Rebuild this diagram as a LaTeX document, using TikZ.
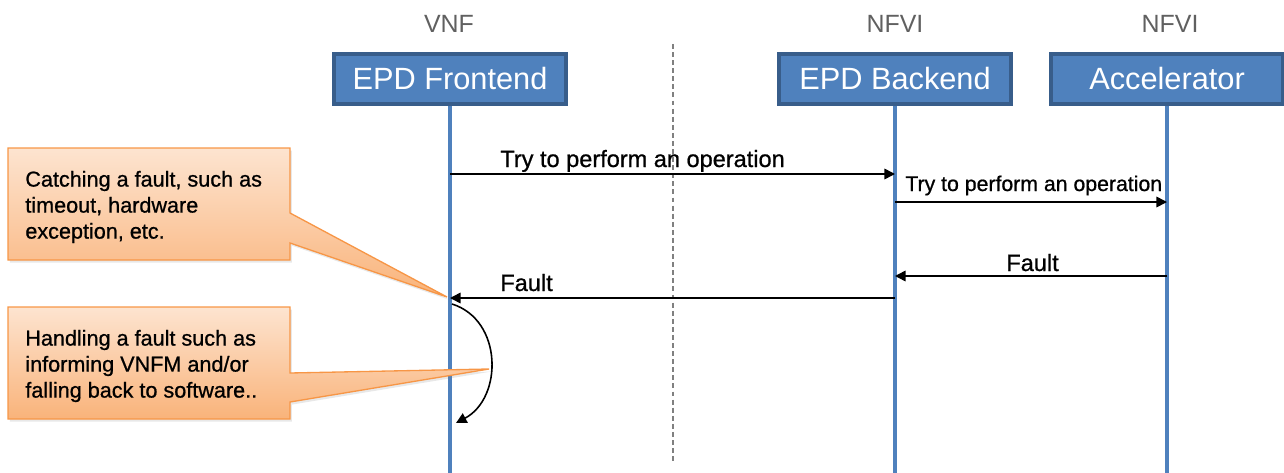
\documentclass[tikz,border=0pt]{standalone}
\usepackage{fontspec}
\setmainfont{Liberation Sans}
\newfontfamily\heavysans[FakeBold=0.8]{Liberation Sans}
\usetikzlibrary{arrows.meta,shadows}
\definecolor{boxblue}{HTML}{4F81BD}
\definecolor{boxedge}{HTML}{385D8A}
\definecolor{headgray}{HTML}{606060}
\definecolor{calltop}{HTML}{FDE4D0}
\definecolor{callbot}{HTML}{F9B37A}
\definecolor{calledge}{HTML}{F79646}
\begin{document}
\begin{tikzpicture}[x=0.02cm,y=-0.02cm,
    actor/.style={draw=boxedge,fill=boxblue,line width=1.9pt,minimum width=4.64cm,minimum height=1cm,
        inner sep=0pt,text=white,font=\fontsize{17.5}{20}\selectfont},
    head/.style={anchor=base,inner sep=0pt,text=headgray,font=\fontsize{14.2}{16}\selectfont},
    lifeline/.style={draw=boxblue,line width=1.8pt},
    msg/.style={line width=0.9pt,-{Triangle[length=6pt,width=6pt]}},
    msglabel/.style={anchor=base west,inner sep=0pt,font=\heavysans\fontsize{13.4}{16}\selectfont},
    callout/.style={draw=calledge,line width=0.75pt,top color=calltop,bottom color=callbot,
        drop shadow={opacity=0.18,shadow xshift=1pt,shadow yshift=-1.5pt}},
    note/.style={anchor=west,align=left,inner sep=0pt,font=\heavysans\fontsize{12.3}{14.8}\selectfont}]
    \useasboundingbox (0,0) rectangle (1284,473);

    \node[head] (vnf) at (449,33) {VNF};
    \node[head] (nfvi1) at (895,33) {NFVI};
    \node[head] (nfvi2) at (1170,33) {NFVI};

    \draw[gray,line width=0.6pt,dash pattern=on 2.8pt off 1.8pt] (673,44) -- (673,462);

    \node[actor] (front) at (450,79) {EPD Frontend};
    \node[actor] (back) at (895,79) {EPD Backend};
    \node[actor] (acc) at (1167,79) {Accelerator};

    \coordinate (front-bot) at (front |- 0,473);
    \coordinate (back-bot) at (back |- 0,473);
    \coordinate (acc-bot) at (acc |- 0,473);
    \draw[lifeline] (front) -- (front-bot);
    \draw[lifeline] (back) -- (back-bot);
    \draw[lifeline] (acc) -- (acc-bot);

    \draw[msg] (front |- 0,174) -- (back |- 0,174);
    \node[msglabel] (try1) at (500,167) {Try to perform an operation};
    \draw[msg] (back |- 0,202) -- (acc |- 0,202);
    \node[msglabel,font=\heavysans\fontsize{12.1}{14}\selectfont] (try2) at (905,191) {Try to perform an operation};
    \draw[msg] (acc |- 0,276) -- (back |- 0,276);
    \node[msglabel] (fault2) at (1006,271) {Fault};
    \draw[msg] (back |- 0,298) -- (front |- 0,298);
    \node[msglabel] (fault1) at (500,291) {Fault};

    \coordinate (loop-in) at (452,304);
    \coordinate (loop-out) at (456,423);
    \draw[msg] (loop-in) .. controls (503,320) and (503,398) .. (loop-out);

    \path[callout] (8,148) -- (290,148) -- (290,213) -- (447,297) -- (290,243) -- (290,260) -- (8,260) -- cycle;
    \node[note] (catch) at (25,207) {Catching a fault, such as\\timeout, hardware\\exception, etc.};
    \path[callout] (8,307) -- (290,307) -- (290,373) -- (489,369) -- (290,402) -- (290,419) -- (8,419) -- cycle;
    \node[note] (handle) at (25,366) {Handling a fault such as\\informing VNFM and/or\\falling back to software..};
\end{tikzpicture}
\end{document}
